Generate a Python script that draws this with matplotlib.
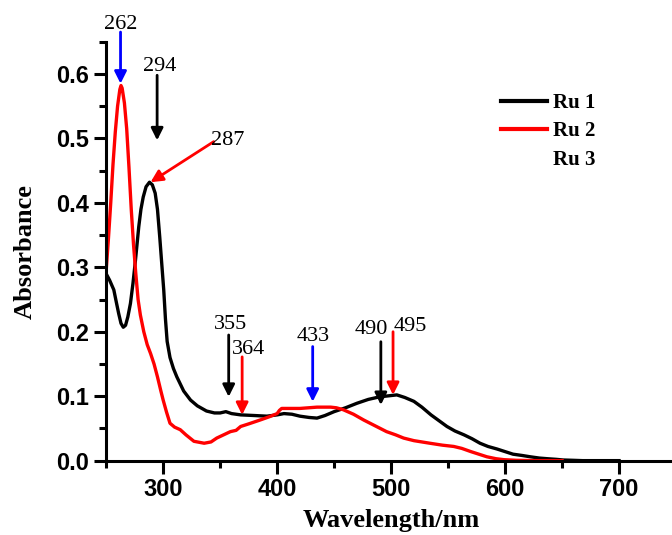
import matplotlib
matplotlib.use("Agg")
import matplotlib.pyplot as plt
from matplotlib.lines import Line2D
from matplotlib.ticker import MultipleLocator, FormatStrFormatter

# Ru 1 (black)
wl_ru1 = [250, 253, 256.7, 259, 261, 263, 265, 267, 269, 271.3, 273.5, 275.7, 278.6, 280.5, 282.5,
          285, 288, 290.5, 293, 295, 297, 299, 300.5, 302, 303.5, 306, 309, 312, 318, 324,
          330, 338, 345, 350, 355, 360, 368, 380, 391, 400, 406, 413, 420, 428, 435, 442, 450, 460,
          470, 480, 490, 500, 505, 512, 520, 527, 535, 542, 549, 556, 564, 571, 578, 585, 593, 600,
          607, 615, 622, 630, 637, 645, 651, 660, 668, 680, 700]
abs_ru1 = [0.290, 0.280, 0.265, 0.245, 0.228, 0.213, 0.207, 0.210, 0.223, 0.244, 0.275, 0.311, 0.363,
           0.390, 0.409, 0.425, 0.432, 0.428, 0.415, 0.390, 0.347, 0.300, 0.265, 0.220, 0.185, 0.160,
           0.143, 0.130, 0.108, 0.094, 0.085, 0.077, 0.074, 0.074, 0.076, 0.073, 0.071, 0.070,
           0.069, 0.071, 0.073, 0.072, 0.069, 0.067, 0.066, 0.070, 0.076, 0.082, 0.089, 0.095, 0.099,
           0.101, 0.102, 0.098, 0.092, 0.083, 0.071, 0.062, 0.053, 0.046, 0.040, 0.034, 0.027, 0.022,
           0.018, 0.014, 0.010, 0.008, 0.006, 0.004, 0.003, 0.002, 0.001, 0.0005, 0.0, 0.0, 0.0]

# Ru 2 (red)
wl_ru2 = [250, 252, 254, 256, 258, 260, 262, 263, 264, 266, 268, 270, 272, 274, 276, 278, 280, 283,
          286, 289, 292, 295, 298, 300, 303, 306, 310,
          315, 320, 327, 336, 342, 347, 353, 359, 364, 368, 375, 385, 393, 400, 402, 404, 410, 420,
          435, 447, 452, 458, 467, 476, 486, 496, 504, 511, 520, 534, 545, 555, 562, 570, 577, 584,
          592, 599, 610, 628, 650]
abs_ru2 = [0.295, 0.345, 0.400, 0.460, 0.510, 0.550, 0.576, 0.582, 0.578, 0.555, 0.515, 0.455, 0.390,
           0.335, 0.290, 0.250, 0.226, 0.200, 0.180, 0.166, 0.150, 0.130, 0.108, 0.094, 0.075, 0.058,
           0.052, 0.048, 0.040, 0.030, 0.027, 0.029, 0.035, 0.040, 0.045,
           0.047, 0.053, 0.057, 0.063, 0.068, 0.073, 0.078, 0.081, 0.081, 0.081, 0.083, 0.083, 0.082,
           0.079, 0.072, 0.063, 0.054, 0.045, 0.040, 0.035, 0.031, 0.027, 0.024, 0.022, 0.019, 0.014,
           0.010, 0.006, 0.003, 0.0015, 0.0005, 0.0, 0.0]

legend_labels = ["Ru 1", "Ru 2", "Ru 3"]

# peak annotations: label, arrow tail/head, text position, colour
peak_labels = ["262", "294", "287", "355", "364", "433", "490", "495"]
arrow_x0 = [262.6, 294.7, 344.4, 357.5, 369.3, 431.2, 491.0, 501.7]
arrow_y0 = [0.665, 0.598, 0.495, 0.195, 0.161, 0.177, 0.1845, 0.200]
arrow_x1 = [262.6, 294.7, 288.9, 357.5, 369.3, 431.2, 491.0, 501.7]
arrow_y1 = [0.585, 0.497, 0.432, 0.099, 0.071, 0.0915, 0.0864, 0.102]
text_x = [263.0, 297.0, 357.0, 359.0, 375.0, 432.0, 483.0, 517.0]
text_y = [0.676, 0.611, 0.497, 0.211, 0.172, 0.192, 0.203, 0.208]
arrow_colors = ["blue", "black", "red", "black", "red", "blue", "black", "red"]

fig = plt.figure(figsize=(6.72, 5.35), dpi=100)
ax = fig.add_axes([0.158, 0.139, 0.848, 0.783])

ax.plot(wl_ru1, abs_ru1, color="black", lw=2.4, solid_joinstyle="round")
ax.plot(wl_ru2, abs_ru2, color="red", lw=2.4, solid_joinstyle="round")

ax.set_xlim(250, 750)
ax.set_ylim(0, 0.65)
ax.xaxis.set_minor_locator(MultipleLocator(50))
ax.yaxis.set_major_locator(MultipleLocator(0.1))
ax.yaxis.set_minor_locator(MultipleLocator(0.05))
ax.set_xticks([300, 400, 500, 600, 700])
ax.yaxis.set_major_formatter(FormatStrFormatter("%.1f"))

for s in ["top", "right"]:
    ax.spines[s].set_visible(False)
for s in ["left", "bottom"]:
    ax.spines[s].set_linewidth(2.2)

ax.tick_params(which="major", direction="out", length=9, width=2.2)
ax.tick_params(which="minor", direction="out", length=5, width=2.2)
for lab in ax.get_xticklabels() + ax.get_yticklabels():
    lab.set_family("Liberation Sans")
    lab.set_fontweight("bold")
    lab.set_fontsize(17)

ax.set_xlabel("Wavelength/nm", family="Liberation Serif", fontweight="bold", fontsize=19, labelpad=6)
ax.set_ylabel("Absorbance", family="Liberation Serif", fontweight="bold", fontsize=19, labelpad=14)

for lbl, x0, y0, x1, y1, tx, ty, c in zip(peak_labels, arrow_x0, arrow_y0, arrow_x1, arrow_y1,
                                          text_x, text_y, arrow_colors):
    ax.annotate("", xy=(x1, y1), xytext=(x0, y0), annotation_clip=False,
                arrowprops=dict(arrowstyle="-|>", color=c, lw=2, mutation_scale=18,
                                shrinkA=0, shrinkB=0))
    ax.text(tx, ty, lbl, ha="center", va="center", family="Liberation Serif", fontsize=16,
            clip_on=False)

handles = [Line2D([], [], color="black", lw=3),
           Line2D([], [], color="red", lw=3),
           Line2D([], [], color="none", lw=3)]
leg = ax.legend(handles, legend_labels, loc="upper left", bbox_to_anchor=(0.66, 0.922),
                frameon=False, handlelength=2.2, handletextpad=0.3, labelspacing=0.4,
                prop={"family": "Liberation Serif", "weight": "bold", "size": 15})

fig.savefig("out.png", dpi=100)
